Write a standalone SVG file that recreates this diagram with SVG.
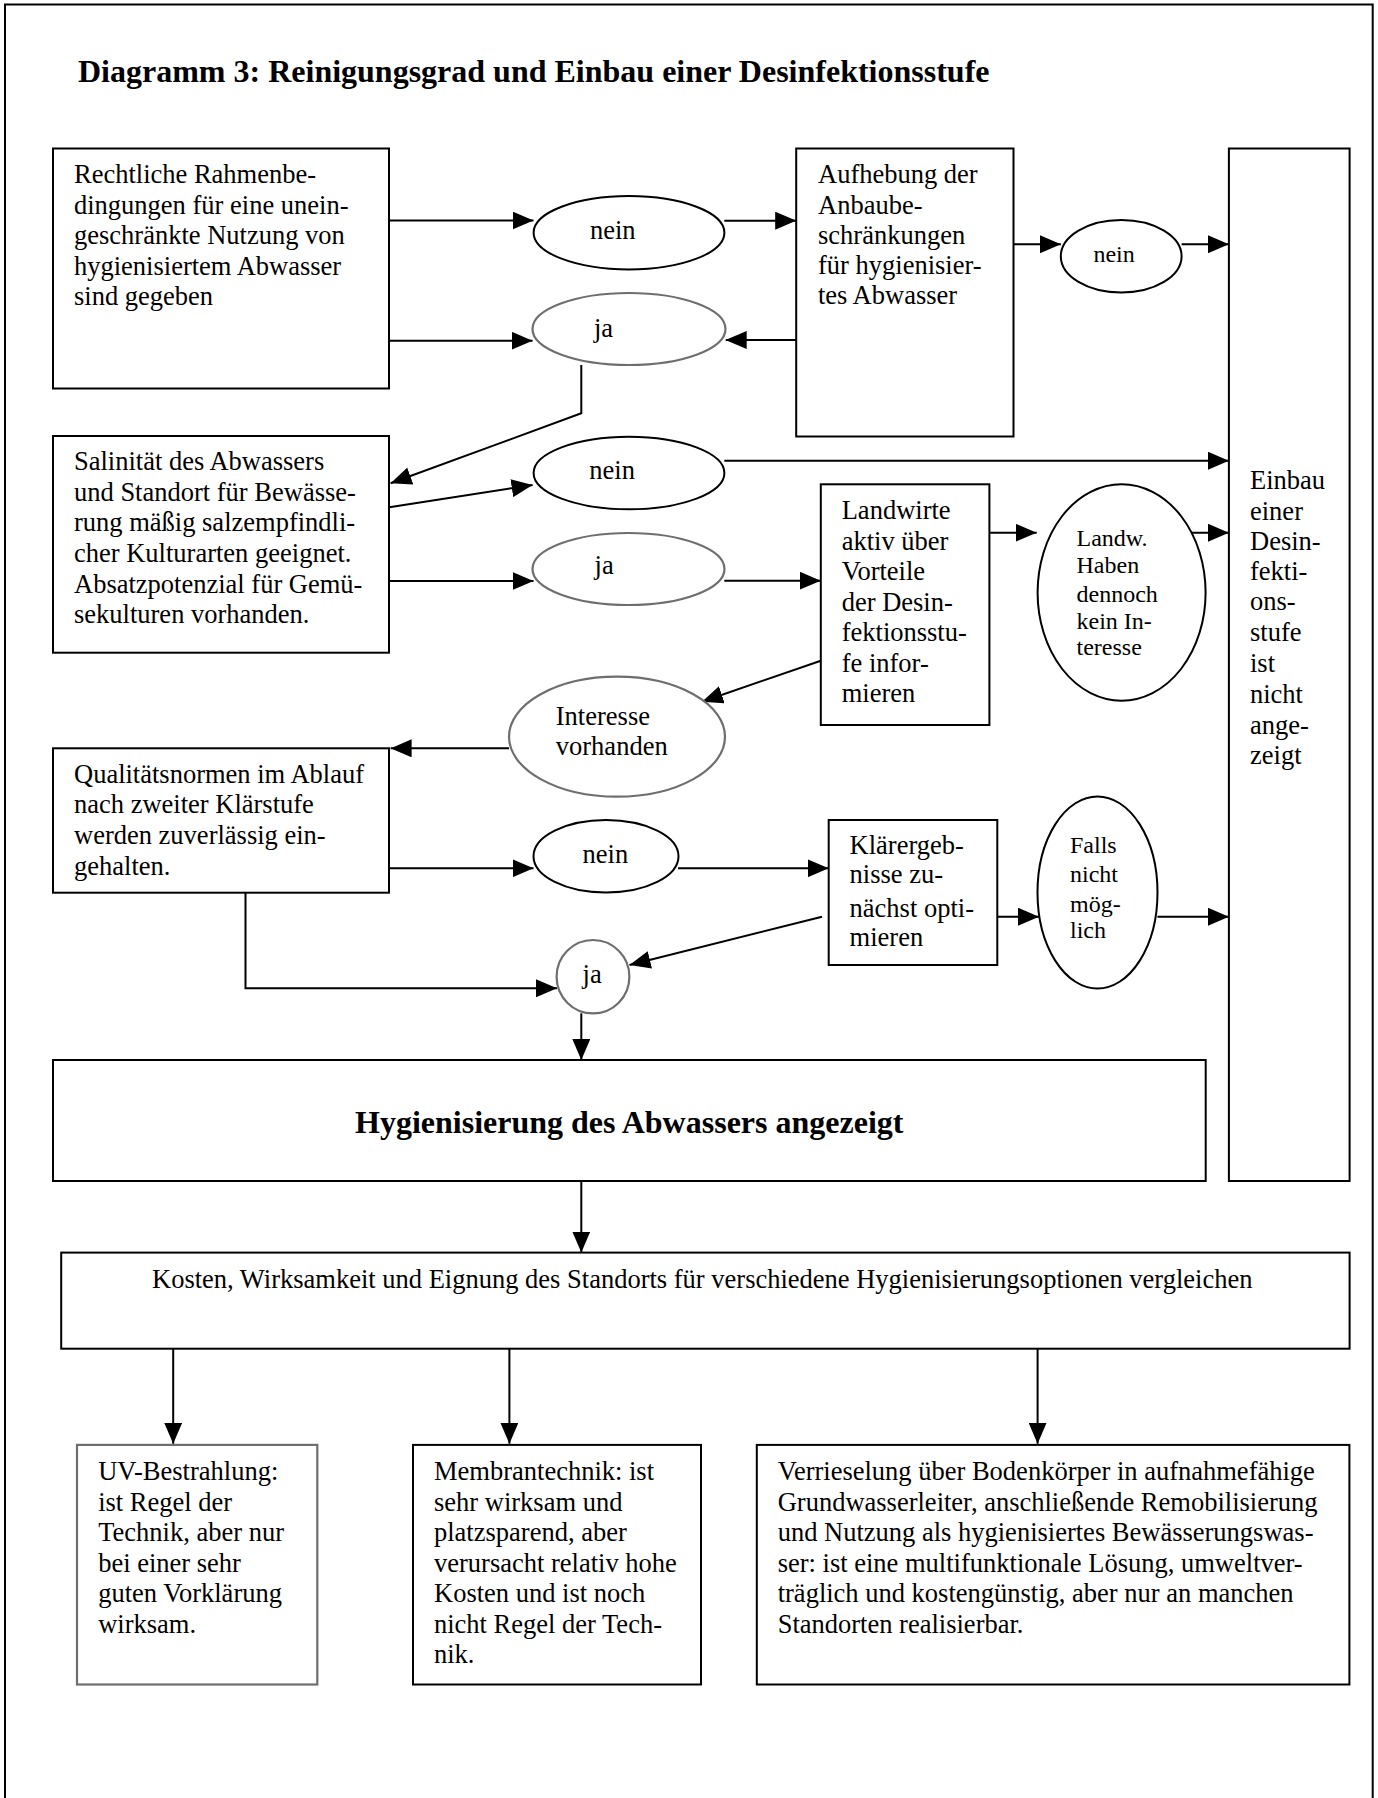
<svg xmlns="http://www.w3.org/2000/svg" width="1378" height="1798" viewBox="0 0 1378 1798">
<style>
.b{fill:#fff;stroke:#000;stroke-width:2}
.g{fill:#fff;stroke:#6e6e6e;stroke-width:2.2}
.t{font-family:"Liberation Serif","Times New Roman",serif;font-size:26.5px;fill:#000}
.s{font-family:"Liberation Serif","Times New Roman",serif;font-size:24px;fill:#000}
.h{font-family:"Liberation Serif","Times New Roman",serif;font-size:32px;font-weight:bold;fill:#000}
.c{fill:none;stroke:#000;stroke-width:2}
</style>
<defs>
<marker id="ah" markerUnits="userSpaceOnUse" markerWidth="21" markerHeight="18" refX="21" refY="9" orient="auto">
<path d="M0,0 L21,9 L0,18 z" fill="#000"/>
</marker>
</defs>
<rect width="1378" height="1798" fill="#fff"/>
<path d="M5,1800 V4.5 H1372.7 V1800" fill="none" stroke="#000" stroke-width="2"/>
<text class="h" x="78" y="82">Diagramm 3: Reinigungsgrad und Einbau einer Desinfektionsstufe</text>

<g id="connectors" class="c" marker-end="url(#ah)">
<path d="M389,220.5 H533.5"/>
<path d="M389,340.7 H532.6"/>
<path d="M724.3,220.7 H796.2"/>
<path d="M796.2,340 H725.7"/>
<path d="M1013.5,244.3 H1060.9"/>
<path d="M1181.6,244.3 H1228.9"/>
<path d="M581.3,365 V413.3 L390.6,483.3"/>
<path d="M389.3,507.3 L532.6,485"/>
<path d="M389.3,581 H533.5"/>
<path d="M724.3,460.7 H1228.9"/>
<path d="M724.3,580.7 H820.8"/>
<path d="M989.4,532.7 H1036.7"/>
<path d="M1180.6,532.7 H1228.9"/>
<path d="M820.8,660.7 L702,701.7"/>
<path d="M509,748.3 H390.6"/>
<path d="M389.3,868.3 H533.5"/>
<path d="M678,868.3 H828.7"/>
<path d="M997.3,916.7 H1039"/>
<path d="M1157.4,916.7 H1228.9"/>
<path d="M822,916.7 L629.5,965"/>
<path d="M245.5,892.7 V988.3 H557"/>
<path d="M581.3,1013.3 V1060"/>
<path d="M581.3,1181 V1252.6"/>
<path d="M173.2,1348.7 V1443.8"/>
<path d="M509.4,1348.7 V1443.8"/>
<path d="M1037.6,1348.7 V1443.8"/>
</g>

<g id="rahmen">
<rect class="b" x="53" y="148.5" width="336" height="240"/>
<text class="t" x="74" y="183">Rechtliche Rahmenbe-</text>
<text class="t" x="74" y="213.5">dingungen für eine unein-</text>
<text class="t" x="74" y="244">geschränkte Nutzung von</text>
<text class="t" x="74" y="274.5">hygienisiertem Abwasser</text>
<text class="t" x="74" y="305">sind gegeben</text>
</g>
<g id="nein1">
<ellipse class="b" cx="629" cy="232.7" rx="95.4" ry="36.7"/>
<text class="t" x="590" y="238.5">nein</text>
</g>
<g id="ja1">
<ellipse class="g" cx="629" cy="329" rx="96.5" ry="36"/>
<text class="t" x="594" y="336.7">ja</text>
</g>
<g id="aufhebung">
<rect class="b" x="796.2" y="148.5" width="217.3" height="288"/>
<text class="t" x="818" y="183">Aufhebung der</text>
<text class="t" x="818" y="213.5">Anbaube-</text>
<text class="t" x="818" y="243.5">schränkungen</text>
<text class="t" x="818" y="273.5">für hygienisier-</text>
<text class="t" x="818" y="304">tes Abwasser</text>
</g>
<g id="nein2">
<ellipse class="b" cx="1121.2" cy="256.3" rx="60.4" ry="36.3"/>
<text class="s" x="1093.4" y="261.7">nein</text>
</g>
<g id="einbau">
<rect class="b" x="1228.9" y="148.5" width="120.7" height="1032.5"/>
<text class="t" x="1250" y="489.3">Einbau</text>
<text class="t" x="1250" y="520">einer</text>
<text class="t" x="1250" y="550">Desin-</text>
<text class="t" x="1250" y="580">fekti-</text>
<text class="t" x="1250" y="610">ons-</text>
<text class="t" x="1250" y="640.7">stufe</text>
<text class="t" x="1250" y="671.7">ist</text>
<text class="t" x="1250" y="703">nicht</text>
<text class="t" x="1250" y="734">ange-</text>
<text class="t" x="1250" y="763.5">zeigt</text>
</g>
<g id="salinitaet">
<rect class="b" x="53" y="436" width="336" height="216.7"/>
<text class="t" x="74" y="470">Salinität des Abwassers</text>
<text class="t" x="74" y="501">und Standort für Bewässe-</text>
<text class="t" x="74" y="531">rung mäßig salzempfindli-</text>
<text class="t" x="74" y="561.7">cher Kulturarten geeignet.</text>
<text class="t" x="74" y="592.7">Absatzpotenzial für Gemü-</text>
<text class="t" x="74" y="623.3">sekulturen vorhanden.</text>
</g>
<g id="nein3">
<ellipse class="b" cx="629" cy="473" rx="95.4" ry="36.3"/>
<text class="t" x="589.3" y="479.3">nein</text>
</g>
<g id="ja2">
<ellipse class="g" cx="628.5" cy="569" rx="96" ry="36"/>
<text class="t" x="594.6" y="574">ja</text>
</g>
<g id="landwirte">
<rect class="b" x="820.8" y="484.3" width="168.6" height="240.7"/>
<text class="t" x="841.7" y="519">Landwirte</text>
<text class="t" x="841.7" y="550">aktiv über</text>
<text class="t" x="841.7" y="580">Vorteile</text>
<text class="t" x="841.7" y="610.7">der Desin-</text>
<text class="t" x="841.7" y="641">fektionsstu-</text>
<text class="t" x="841.7" y="671.7">fe infor-</text>
<text class="t" x="841.7" y="702.3">mieren</text>
</g>
<g id="landw">
<ellipse class="b" cx="1121.6" cy="592.5" rx="84" ry="108.2"/>
<text class="s" x="1076.5" y="546">Landw.</text>
<text class="s" x="1076.5" y="573.3">Haben</text>
<text class="s" x="1076.5" y="601.5">dennoch</text>
<text class="s" x="1076.5" y="629">kein In-</text>
<text class="s" x="1076.5" y="655">teresse</text>
</g>
<g id="interesse">
<ellipse class="g" cx="617" cy="736.7" rx="108" ry="60"/>
<text class="t" x="555.8" y="725">Interesse</text>
<text class="t" x="555.8" y="755">vorhanden</text>
</g>
<g id="qualitaet">
<rect class="b" x="53" y="748.3" width="336" height="144.4"/>
<text class="t" x="74" y="782.7">Qualitätsnormen im Ablauf</text>
<text class="t" x="74" y="813.3">nach zweiter Klärstufe</text>
<text class="t" x="74" y="844.3">werden zuverlässig ein-</text>
<text class="t" x="74" y="875">gehalten.</text>
</g>
<g id="nein4">
<ellipse class="b" cx="606" cy="856.3" rx="72.5" ry="36.3"/>
<text class="t" x="582.6" y="862.7">nein</text>
</g>
<g id="klaerergebnisse">
<rect class="b" x="828.7" y="820" width="168.6" height="145"/>
<text class="t" x="849.6" y="854">Klärergeb-</text>
<text class="t" x="849.6" y="883.3">nisse zu-</text>
<text class="t" x="849.6" y="916.7">nächst opti-</text>
<text class="t" x="849.6" y="946">mieren</text>
</g>
<g id="falls">
<ellipse class="b" cx="1097.5" cy="892.5" rx="60" ry="96"/>
<text class="s" x="1070" y="853.3">Falls</text>
<text class="s" x="1070" y="881.7">nicht</text>
<text class="s" x="1070" y="911.7">mög-</text>
<text class="s" x="1070" y="938.3">lich</text>
</g>
<g id="ja3">
<ellipse class="g" cx="593" cy="976.7" rx="36.4" ry="36.7"/>
<text class="t" x="582.6" y="983.3">ja</text>
</g>
<g id="hygienisierung">
<rect class="b" x="53" y="1060" width="1152.7" height="121"/>
<text class="h" x="355" y="1133.3">Hygienisierung des Abwassers angezeigt</text>
</g>
<g id="kosten">
<rect class="b" x="61.2" y="1252.6" width="1288.4" height="96.1"/>
<text class="t" x="152" y="1287.7">Kosten, Wirksamkeit und Eignung des Standorts für verschiedene Hygienisierungsoptionen vergleichen</text>
</g>
<g id="uv">
<rect class="g" x="77" y="1444.9" width="240.3" height="239.6"/>
<text class="t" x="98.2" y="1480.3">UV-Bestrahlung:</text>
<text class="t" x="98.2" y="1510.8">ist Regel der</text>
<text class="t" x="98.2" y="1541.3">Technik, aber nur</text>
<text class="t" x="98.2" y="1571.8">bei einer sehr</text>
<text class="t" x="98.2" y="1602.4">guten Vorklärung</text>
<text class="t" x="98.2" y="1632.9">wirksam.</text>
</g>
<g id="membran">
<rect class="b" x="413" y="1444.9" width="288" height="239.6"/>
<text class="t" x="434" y="1480.3">Membrantechnik: ist</text>
<text class="t" x="434" y="1510.8">sehr wirksam und</text>
<text class="t" x="434" y="1541.3">platzsparend, aber</text>
<text class="t" x="434" y="1571.8">verursacht relativ hohe</text>
<text class="t" x="434" y="1602.4">Kosten und ist noch</text>
<text class="t" x="434" y="1632.9">nicht Regel der Tech-</text>
<text class="t" x="434" y="1663.4">nik.</text>
</g>
<g id="verrieselung">
<rect class="b" x="756.8" y="1444.9" width="592.6" height="239.6"/>
<text class="t" x="777.7" y="1480.3">Verrieselung über Bodenkörper in aufnahmefähige</text>
<text class="t" x="777.7" y="1510.8">Grundwasserleiter, anschließende Remobilisierung</text>
<text class="t" x="777.7" y="1541.3">und Nutzung als hygienisiertes Bewässerungswas-</text>
<text class="t" x="777.7" y="1571.8">ser: ist eine multifunktionale Lösung, umweltver-</text>
<text class="t" x="777.7" y="1602.4">träglich und kostengünstig, aber nur an manchen</text>
<text class="t" x="777.7" y="1632.9">Standorten realisierbar.</text>
</g>
</svg>
